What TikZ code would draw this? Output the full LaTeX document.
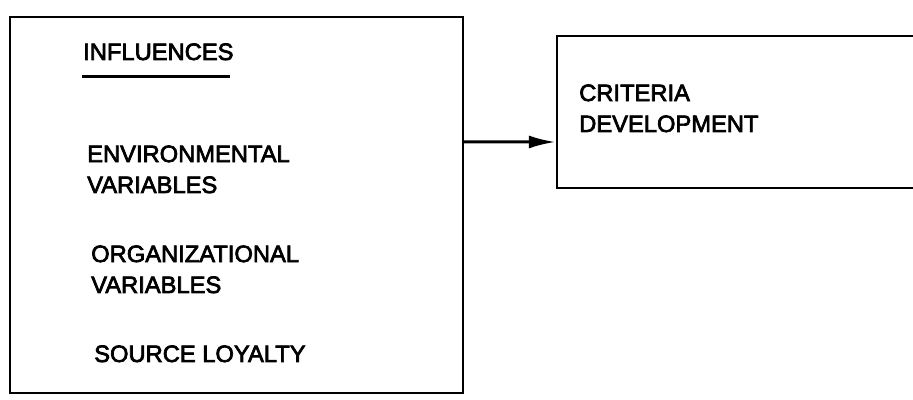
\documentclass[tikz,border=0pt]{standalone}
\usepackage{fontspec}
\setmainfont{Liberation Sans}
\newfontfamily\scanfont{Liberation Sans}[FakeBold=3]
\usetikzlibrary{arrows.meta}

\begin{document}
\begin{tikzpicture}[every node/.style={font=\scanfont\fontsize{13.5}{17.6}\selectfont, inner sep=0pt}, line width=1.4pt]
  \useasboundingbox (0,0) rectangle (18.26,8);
  \node[draw, minimum height=7.52cm, minimum width=9.06cm] at (4.73,3.9) (infl) {};
  \node[draw, minimum height=3.04cm, minimum width=7.46cm] at (14.87,5.76) (crit) {};

  \node[anchor=base west] at (1.64,6.8) (head) {INFLUENCES};
  \draw[line width=1.7pt] (1.64,6.46) -- (4.6,6.46);

  % base anchor sits on the last line
  \node[anchor=base west, align=left] at (1.72,4.14) (env) {ENVIRONMENTAL\\VARIABLES};
  \node[anchor=base west, align=left] at (1.8,2.14) (org) {ORGANIZATIONAL\\VARIABLES};
  \node[anchor=base west] at (1.86,0.76) (src) {SOURCE LOYALTY};

  \node[anchor=base west, align=left] at (11.56,5.36) (crtxt) {CRITERIA\\DEVELOPMENT};

  \draw[-{Latex[length=5.4mm,width=2.6mm]}, line width=1.7pt] ([yshift=1.26cm]infl.east) -- ([yshift=-0.6cm]crit.west);
\end{tikzpicture}
\end{document}
